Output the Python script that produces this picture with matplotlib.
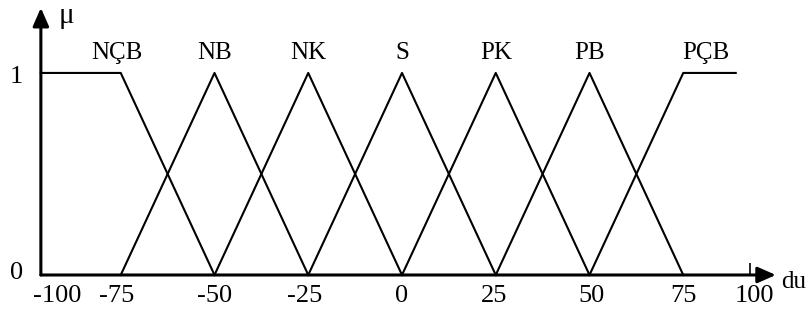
import matplotlib
matplotlib.use('Agg')
import matplotlib.pyplot as plt

plt.rcParams['font.family'] = ['Liberation Serif', 'DejaVu Serif']

# membership function break points (du, mu)
ncb_x = [-96.3, -75, -50]
ncb_mu = [1, 1, 0]
tri_centers = [-50, -25, 0, 25, 50]
tri_half = 25
pcb_x = [50, 75, 89]
pcb_mu = [0, 1, 1]

set_names = ['NÇB', 'NB', 'NK', 'S', 'PK', 'PB', 'PÇB']
name_pos = [-76, -50, -25, 0, 25, 50, 81]

xtick_pos = [-92, -76, -50, -26, 0, 24.5, 50.5, 75, 94]
xtick_labels = ['-100', '-75', '-50', '-25', '0', '25', '50', '75', '100']
ytick_pos = [0.02, 0.99]
ytick_labels = ['0', '1']

x_start, x_end = -96.3, 99.7
y_top = 1.322

fig = plt.figure(figsize=(8.1, 3.2), dpi=100)
ax = fig.add_axes([0, 0, 1, 1])
ax.set_xlim(-107.2, 108.8)
ax.set_ylim(-0.2228, 1.361)

lw = 1.5
ax.plot(ncb_x, ncb_mu, color='black', lw=lw)
for c in tri_centers:
    ax.plot([c - tri_half, c, c + tri_half], [0, 1, 0], color='black', lw=lw)
ax.plot(pcb_x, pcb_mu, color='black', lw=lw)

for name, p in zip(set_names, name_pos):
    ax.text(p, 1.1, name, ha='center', va='center', fontsize=18)

# axes with arrows
ax.annotate('', xy=(x_end, 0), xytext=(x_start, 0),
            arrowprops=dict(arrowstyle='-|>,head_length=0.5,head_width=0.22',
                            lw=2.2, color='black',
                            mutation_scale=22, shrinkA=0, shrinkB=0))
ax.annotate('', xy=(x_start, y_top), xytext=(x_start, 0),
            arrowprops=dict(arrowstyle='-|>,head_length=0.5,head_width=0.22',
                            lw=2.2, color='black',
                            mutation_scale=22, shrinkA=0, shrinkB=0))
ax.text(-89.6, 1.28, 'μ', ha='center', va='center', fontsize=21)
ax.text(104.3, -0.035, 'du', ha='center', va='center', fontsize=18)

# tick labels on axes lines
for s in ['top', 'right']:
    ax.spines[s].set_visible(False)
ax.spines['bottom'].set_position(('data', 0))
ax.spines['left'].set_position(('data', x_start))
ax.spines['bottom'].set_visible(False)
ax.spines['left'].set_visible(False)
ax.set_xticks(xtick_pos)
ax.set_xticklabels(xtick_labels, fontsize=19)
ax.set_yticks(ytick_pos)
ax.set_yticklabels(ytick_labels, fontsize=19)
ax.tick_params(axis='x', length=0, pad=7)
ax.tick_params(axis='y', length=0, pad=13)
ax.set_xticks([92.8], minor=True)
ax.tick_params(axis='x', which='minor', direction='in', length=9, width=1.2)

fig.savefig('out.png', dpi=100)
